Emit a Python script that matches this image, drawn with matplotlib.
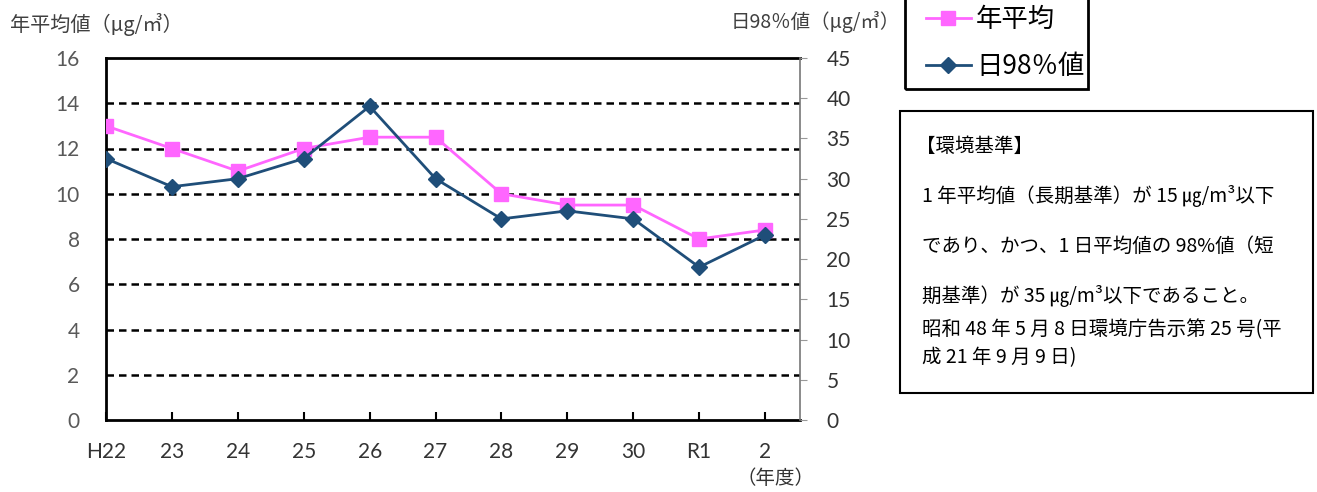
import matplotlib
matplotlib.use("Agg")
import matplotlib.pyplot as plt
from matplotlib.patches import Rectangle
from matplotlib.lines import Line2D

plt.rcParams['font.family'] = ['Noto Sans CJK JP', 'DejaVu Sans']

years = ["H22", "23", "24", "25", "26", "27", "28", "29", "30", "R1", "2"]
annual_mean = [13.0, 12.0, 11.0, 12.0, 12.5, 12.5, 10.0, 9.5, 9.5, 8.0, 8.4]
daily_98 = [32.5, 29.0, 30.0, 32.5, 39.0, 30.0, 25.0, 26.0, 25.0, 19.0, 23.0]
left_ticks = [0, 2, 4, 6, 8, 10, 12, 14, 16]
right_ticks = [0, 5, 10, 15, 20, 25, 30, 35, 40, 45]

W, H = 1317, 492
fig = plt.figure(figsize=(W / 100, H / 100), dpi=100)

def fx(px):
    return px / W

def fy(py):
    return 1 - py / H

ax = fig.add_axes([fx(106), fy(420), fx(800) - fx(106), fy(58) - fy(420)])
ax2 = ax.twinx()

x = list(range(len(years)))
gray = "#595959"
pink = "#FF66FF"
navy = "#1F4E79"
tickfont = ['Lato', 'DejaVu Sans']

ax.set_xlim(0, 10.53)
ax.set_ylim(0, 16)
ax2.set_ylim(0, 45)

for v in left_ticks[1:-1]:
    ax.axhline(v, color="black", linestyle=(0, (3, 2)), linewidth=1.8, zorder=1)

ax.plot(x, annual_mean, color=pink, marker="s", markersize=9.5, linewidth=2, zorder=3)
ax2.plot(x, daily_98, color=navy, marker="D", markersize=8.5, linewidth=2, zorder=3)

ax.set_yticks(left_ticks)
ax.set_yticklabels([str(v) for v in left_ticks], color=gray, fontsize=15, family=tickfont)
ax.tick_params(axis="y", length=0, pad=19)
ax.set_xticks(x)
ax.set_xticklabels(years, color="#333333", fontsize=15, family=tickfont)
ax.tick_params(axis="x", direction="in", length=6, width=1.5, pad=16)

ax2.set_yticks(right_ticks)
ax2.set_yticklabels([str(v) for v in right_ticks], color="#333333", fontsize=15, family=tickfont)
ax2.tick_params(axis="y", direction="out", length=5, color="#999999", pad=14)

for s in ["left", "top", "bottom"]:
    ax.spines[s].set_linewidth(2)
    ax.spines[s].set_color("black")
ax.spines["right"].set_visible(False)
for s in ["left", "top", "bottom"]:
    ax2.spines[s].set_visible(False)
ax2.spines["right"].set_color("#777777")
ax2.spines["right"].set_linewidth(1.2)
ax2.set_zorder(ax.get_zorder() + 1)
ax.patch.set_visible(True)
ax2.patch.set_visible(False)

# axis titles
fig.text(fx(10), fy(25), "年平均値（μg/㎥）", fontsize=14.5, color="#404040", ha="left", va="center")
fig.text(fx(900), fy(22), "日98％値（μg/㎥）", fontsize=14, color="#404040", ha="right", va="center")
fig.text(fx(775), fy(478), "（年度）", fontsize=14, color="#333333", ha="center", va="center")

# legend
fig.patches.append(Rectangle((fx(905), fy(89)), fx(1088) - fx(905), fy(-5) - fy(89),
                             transform=fig.transFigure, fill=False, edgecolor="black", linewidth=2))
handles = [Line2D([0], [0], color=pink, marker="s", markersize=9.5, linewidth=2),
           Line2D([0], [0], color=navy, marker="D", markersize=8.5, linewidth=2)]
fig.legend(handles, ["年平均", "日98％値"], loc="center left",
           bbox_to_anchor=(fx(902), fy(43)), frameon=False, fontsize=19,
           handlelength=1.7, labelspacing=0.75, handletextpad=0.2)

# environmental standard box
fig.patches.append(Rectangle((fx(900), fy(393)), fx(1313) - fx(900), fy(111) - fy(393),
                             transform=fig.transFigure, fill=False, edgecolor="black", linewidth=1.5))
lines = [
    (916, 146, "【環境基準】"),
    (922, 196, "1 年平均値（長期基準）が 15 ㎍/m³以下"),
    (922, 246, "であり、かつ、1 日平均値の 98%値（短"),
    (922, 296, "期基準）が 35 ㎍/m³以下であること。"),
    (922, 330, "昭和 48 年 5 月 8 日環境庁告示第 25 号(平"),
    (922, 358, "成 21 年 9 月 9 日)"),
]
for px, py, t in lines:
    fig.text(fx(px), fy(py), t, fontsize=14, color="black", ha="left", va="center")

fig.savefig("out.png", dpi=100)
